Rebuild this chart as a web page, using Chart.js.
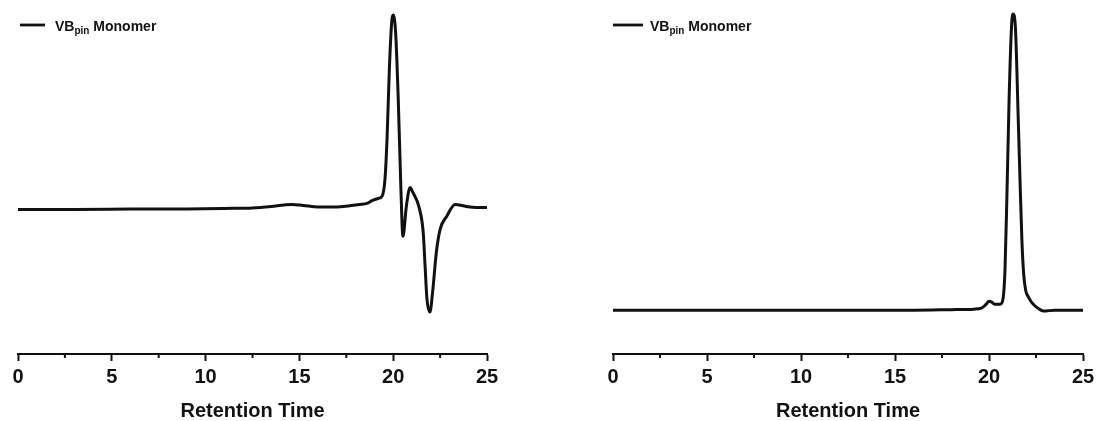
<!DOCTYPE html>
<html>
<head>
<meta charset="utf-8">
<script src="https://cdn.jsdelivr.net/npm/chart.js@4.4.1/dist/chart.umd.min.js"></script>
<style>
  html, body { margin: 0; padding: 0; background: #fff; }
  .wrap { position: absolute; top: 0; width: 549px; height: 421px; }
  #left { left: 0; }
  #right { left: 549px; }
</style>
</head>
<body>
<div class="wrap" id="left"><canvas id="chartA"></canvas></div>
<div class="wrap" id="right"><canvas id="chartB"></canvas></div>
<script>
/* data ------------------------------------------------------------------- */
const timeA = [0, 3, 6, 9, 11, 12.5, 13.5, 14.2, 14.6, 15.2, 16, 17, 17.6, 18.2, 18.6, 18.9,
  19.2, 19.4, 19.56, 19.67, 19.8, 19.93, 20.0, 20.13, 20.27, 20.4, 20.52, 20.7, 20.9, 21.05,
  21.38, 21.6, 21.7, 21.8, 21.96, 22.1, 22.3, 22.5, 22.85, 23.3, 23.9, 24.5, 25];
const signalA = [0, 0, 0.3, 0.5, 1, 1.5, 3, 4.5, 5, 4, 2.5, 2.5, 3.5, 5, 6, 9,
  11, 13, 30, 70, 143, 190, 195, 177, 110, 27, -27, 3, 22, 17,
  2, -23, -57, -90, -103, -83, -43, -20, -7, 5, 3, 2, 2];

const timeB = [0, 4, 8, 12, 16, 18, 19.2, 19.6, 19.85, 20.0, 20.15, 20.3, 20.6, 20.75, 20.85,
  20.95, 21.07, 21.2, 21.28, 21.4, 21.55, 21.65, 21.75, 21.85, 21.95, 22.1, 22.3, 22.6, 22.9,
  23.5, 24.2, 25];
const signalB = [0, 0, 0, 0, 0, 0.5, 1, 2, 6, 9, 8, 6, 6, 12, 40,
  112, 212, 285, 297, 285, 195, 130, 70, 35, 20, 13, 7, 2, -1,
  0, 0, 0];

const xTickValues = [0, 5, 10, 15, 20, 25];
const minorTickValues = [2.5, 7.5, 12.5, 17.5, 22.5];
const legendParts = ['VB', 'pin', ' Monomer'];
const xTitle = 'Retention Time';

const FONT = "'Liberation Sans', Arial, sans-serif";
const INK = '#111';

/* plugins ---------------------------------------------------------------- */
// short minor ticks between the labelled ones
const minorTicks = {
  id: 'minorTicks',
  afterDraw(chart) {
    const sx = chart.scales.x;
    const c = chart.ctx;
    c.save();
    c.strokeStyle = INK;
    c.lineWidth = 2;
    minorTickValues.forEach((v) => {
      const px = sx.getPixelForValue(v);
      c.beginPath();
      c.moveTo(px, sx.top);
      c.lineTo(px, sx.top + 4);
      c.stroke();
    });
    c.restore();
  }
};

// legend with subscript (built-in legend can't do it)
const subLegend = {
  id: 'subLegend',
  afterDraw(chart, args, opts) {
    const c = chart.ctx;
    const x0 = chart.chartArea.left + opts.lineStart;
    const y = 25;
    c.save();
    c.strokeStyle = INK;
    c.lineWidth = 2.8;
    c.beginPath();
    c.moveTo(x0, y);
    c.lineTo(x0 + opts.lineLen, y);
    c.stroke();

    c.fillStyle = INK;
    c.textBaseline = 'alphabetic';
    let tx = chart.chartArea.left + opts.textStart;
    c.font = `bold 14px ${FONT}`;
    c.fillText(legendParts[0], tx, 31);
    tx += c.measureText(legendParts[0]).width;
    c.font = `bold 10px ${FONT}`;
    c.fillText(legendParts[1], tx, 34);
    tx += c.measureText(legendParts[1]).width;
    c.font = `bold 14px ${FONT}`;
    c.fillText(legendParts[2], tx, 31);
    c.restore();
  }
};

/* chart builder ---------------------------------------------------------- */
function makeChart(id, times, signal, yMin, yMax, pad, legendOpts) {
  const points = times.map((t, i) => ({ x: t, y: signal[i] }));
  return new Chart(document.getElementById(id), {
    type: 'line',
    data: {
      datasets: [{
        label: legendParts.join(''),
        data: points,
        borderColor: INK,
        borderWidth: 3,
        pointRadius: 0,
        cubicInterpolationMode: 'monotone',
        fill: false
      }]
    },
    options: {
      responsive: true,
      maintainAspectRatio: false,
      animation: false,
      layout: { padding: pad },
      plugins: {
        legend: { display: false },
        tooltip: { enabled: false },
        subLegend: legendOpts
      },
      scales: {
        x: {
          type: 'linear',
          min: 0,
          max: 25,
          afterBuildTicks: (scale) => {
            scale.ticks = xTickValues.map((v) => ({ value: v }));
          },
          // edge labels may overhang; layout padding handles the room
          afterFit: (scale) => {
            scale.paddingLeft = 0;
            scale.paddingRight = 0;
          },
          grid: {
            drawOnChartArea: false,
            drawTicks: true,
            tickLength: 7,
            tickWidth: 2,
            tickColor: INK
          },
          border: { display: true, color: INK, width: 2 },
          ticks: {
            color: INK,
            padding: 6,
            maxRotation: 0,
            font: { family: FONT, size: 20, weight: 'bold', lineHeight: 1.0 }
          },
          title: {
            display: true,
            text: xTitle,
            color: INK,
            padding: { top: 8, bottom: 0 },
            font: { family: FONT, size: 20, weight: 'bold', lineHeight: 1.0 }
          }
        },
        y: {
          display: false,
          min: yMin,
          max: yMax
        }
      }
    },
    plugins: [minorTicks, subLegend]
  });
}

makeChart('chartA', timeA, signalA, -145, 200,
  { left: 18, right: 62, top: 10, bottom: 0 },
  { lineStart: 2, lineLen: 25, textStart: 37 });

makeChart('chartB', timeB, signalB, -44, 301,
  { left: 64, right: 15, top: 10, bottom: 0 },
  { lineStart: 0, lineLen: 30, textStart: 37 });
</script>
</body>
</html>
